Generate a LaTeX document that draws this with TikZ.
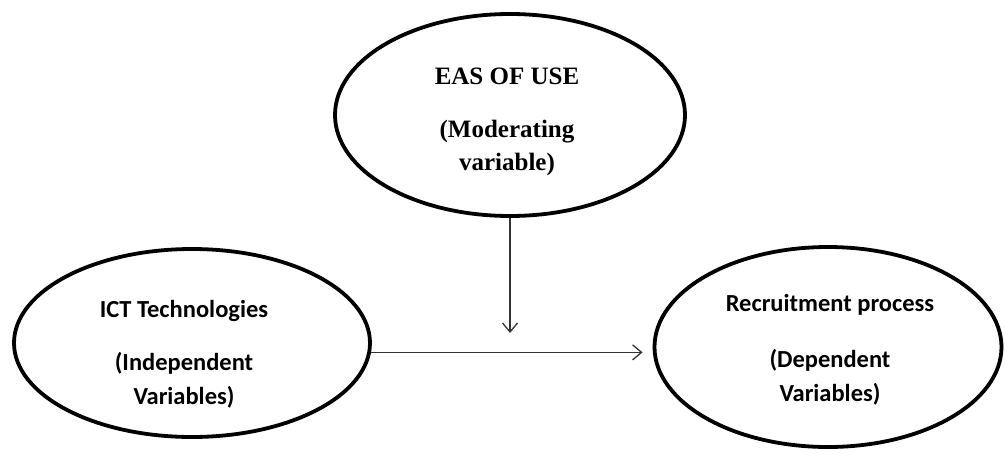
\documentclass[tikz,border=0pt]{standalone}
\usepackage{fontspec}
\setmainfont{Liberation Serif}
\newfontfamily\calfont{Carlito}
\usetikzlibrary{shapes.geometric,arrows.meta}
\begin{document}
\begin{tikzpicture}[x=1pt,y=-1pt,
  oval/.style={ellipse,draw=black,line width=3.8pt,inner sep=0pt},
  arr/.style={draw=black!80,line width=1.4pt,-{Straight Barb[length=9pt,width=15pt,line width=1.3pt]}},
  toptext/.style={align=center,inner sep=0pt,font=\fontsize{25}{33}\selectfont\bfseries},
  sidetext/.style={align=center,inner sep=0pt,font=\calfont\fontsize{24.5}{34}\selectfont\bfseries}]
\useasboundingbox (0,0) rectangle (1005,455);
\node[oval,minimum width=350pt,minimum height=202pt] (top) at (510,115) {};
\node[oval,minimum width=356pt,minimum height=188pt] (left) at (192,343) {};
\node[oval,minimum width=347pt,minimum height=200pt] (right) at (828,347) {};
\node[toptext] (toplbl) at (507,122) {EAS OF USE\\[20pt](Moderating\\variable)};
\node[sidetext] (leftlbl) at (184,354) {ICT Technologies\\[19pt](Independent\\Variables)};
\node[sidetext] (rightlbl) at (830,350) {Recruitment process\\[22pt](Dependent\\Variables)};
\coordinate (hend) at (left.-3 -| right.west);
\draw[arr,shorten >=10pt] (left.-3) -- (hend);
\coordinate (vend) at (top.south |- 0,333);
\draw[arr] (top.south) -- (vend);
\end{tikzpicture}
\end{document}
